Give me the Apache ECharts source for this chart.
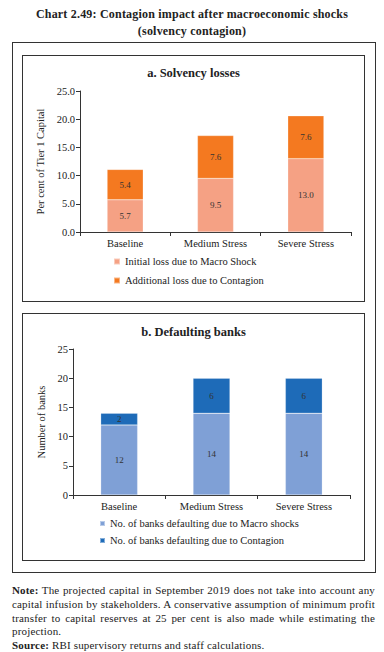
<!DOCTYPE html>
<html><head><meta charset="utf-8">
<script src="https://cdn.jsdelivr.net/npm/echarts@6/dist/echarts.min.js"></script>
<style>
html,body{margin:0;padding:0;background:#fff;width:384px;height:652px;overflow:hidden;font-family:"Liberation Serif","DejaVu Serif",serif;color:#222}
#title{position:absolute;left:0;top:6px;width:384px;text-align:center;font-weight:bold;font-size:12px;letter-spacing:0.2px;line-height:17px}
#outer{position:absolute;left:12px;top:42px;width:362px;height:529px;border:1px solid #333}
.panel{position:absolute;left:22px;width:341px;border:1px solid #333}
#pa{top:55px;height:245px}
#pb{top:313px;height:246px}
.chart{position:absolute;left:22px;width:343px}
#ca{top:55px;height:247px}
#cb{top:313px;height:248px}
#note{position:absolute;left:12px;top:584px;width:363px;font-size:11px;letter-spacing:0.17px;line-height:13.8px;text-align:justify}
</style></head>
<body>
<div id="title">Chart 2.49: Contagion impact after macroeconomic shocks<br>(solvency contagion)</div>
<div id="outer"></div>
<div class="panel" id="pa"></div>
<div class="panel" id="pb"></div>
<div class="chart" id="ca"></div>
<div class="chart" id="cb"></div>
<div id="note"><b>Note:</b> The projected capital in September 2019 does not take into account any capital infusion by stakeholders. A conservative assumption of minimum profit transfer to capital reserves at 25 per cent is also made while estimating the projection.<br><b>Source:</b> RBI supervisory returns and staff calculations.</div>
<script>
var categories = ["Baseline", "Medium Stress", "Severe Stress"];
var lossMacro = [5.7, 9.5, 13.0];
var lossContagion = [5.4, 7.6, 7.6];
var banksMacro = [12, 14, 14];
var banksContagion = [2, 6, 6];
var lossTicks = [0, 5, 10, 15, 20, 25];
var bankTicks = [0, 5, 10, 15, 20, 25];

var FONT = "Liberation Serif";
function axisX(){
  return {type:'category', data:categories,
    axisLine:{lineStyle:{color:'#333',width:1}},
    axisTick:{show:true, alignWithLabel:false, length:4, lineStyle:{color:'#333'}},
    axisLabel:{color:'#222', fontFamily:FONT, fontSize:10.5, margin:6}};
}
function axisY(name, ticks, dec, gap){
  return {type:'value', min:ticks[0], max:ticks[ticks.length-1], interval:ticks[1]-ticks[0],
    name:name, nameLocation:'middle', nameGap:gap, nameRotate:90,
    nameTextStyle:{color:'#222', fontFamily:FONT, fontSize:10.5},
    axisLine:{show:true, lineStyle:{color:'#333',width:1}},
    axisTick:{show:true, inside:false, length:4, lineStyle:{color:'#333'}},
    splitLine:{show:false},
    axisLabel:{color:'#222', fontFamily:FONT, fontSize:10.5, margin:5,
      formatter:function(v){return v.toFixed(dec);}}};
}
function bar(name, data, color, dec){
  return {name:name, type:'bar', stack:'s', data:data, barWidth:'40%',
    itemStyle:{color:color, borderColor:'rgba(255,255,255,0.45)', borderWidth:0.5},
    label:{show:true, position:'inside', color:'#333', fontFamily:FONT, fontSize:9,
      formatter:function(p){return p.value.toFixed(dec);}}};
}
var ca = echarts.init(document.getElementById('ca'), null, {renderer:'svg'});
ca.setOption({
  animation:false,
  title:{text:'a. Solvency losses', left:'center', top:6, textStyle:{fontFamily:FONT, fontSize:12.5, fontWeight:'bold', color:'#222'}},
  grid:{left:58, right:14, top:36, bottom:70},
  xAxis:axisX(),
  yAxis:axisY('Per cent of Tier 1 Capital', lossTicks, 1, 30),
  legend:{orient:'vertical', left:86, top:196, itemWidth:6, itemHeight:6, itemGap:8, icon:'rect',
    textStyle:{fontFamily:FONT, fontSize:10.5, color:'#222'},
    data:['Initial loss due to Macro Shock','Additional loss due to Contagion']},
  series:[bar('Initial loss due to Macro Shock', lossMacro, '#F5A184', 1),
          bar('Additional loss due to Contagion', lossContagion, '#F47920', 1)]
});
var cb = echarts.init(document.getElementById('cb'), null, {renderer:'svg'});
cb.setOption({
  animation:false,
  title:{text:'b. Defaulting banks', left:'center', top:7, textStyle:{fontFamily:FONT, fontSize:12.5, fontWeight:'bold', color:'#222'}},
  grid:{left:51, right:15, top:36, bottom:66},
  xAxis:axisX(),
  yAxis:axisY('Number of banks', bankTicks, 0, 22),
  legend:{orient:'vertical', left:72, top:200, itemWidth:5, itemHeight:5, itemGap:6, icon:'rect',
    textStyle:{fontFamily:FONT, fontSize:10.5, color:'#222'},
    data:['No. of banks defaulting due to Macro shocks','No. of banks defaulting due to Contagion']},
  series:[bar('No. of banks defaulting due to Macro shocks', banksMacro, '#7FA0D6', 0),
          bar('No. of banks defaulting due to Contagion', banksContagion, '#1E6BB8', 0)]
});
</script>
</body></html>
